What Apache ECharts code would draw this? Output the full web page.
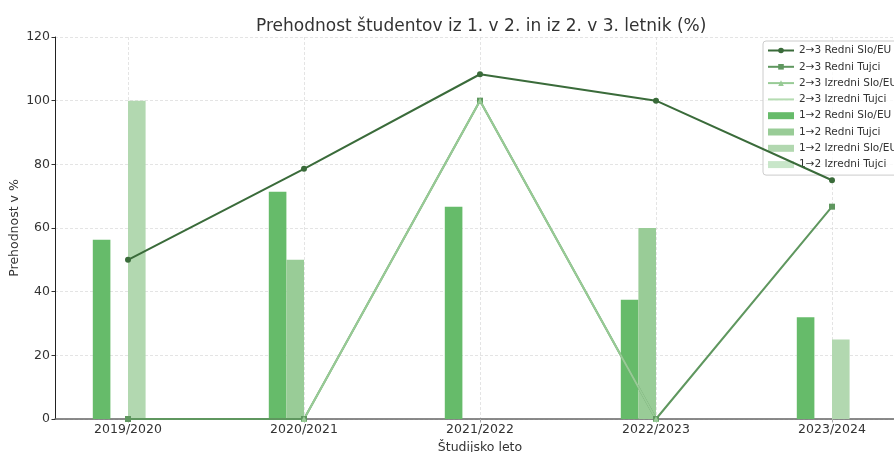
<!DOCTYPE html>
<html>
<head>
<meta charset="utf-8">
<script src="https://cdn.jsdelivr.net/npm/echarts@6/dist/echarts.min.js"></script>
<style>
  html, body { margin: 0; padding: 0; background: #fff; }
  #main { width: 894px; height: 452px; }
</style>
</head>
<body>
<div id="main"></div>
<script>
// podatki (odčitani z grafa)
var years = ["2019/2020", "2020/2021", "2021/2022", "2022/2023", "2023/2024"];
var yTicks = [0, 20, 40, 60, 80, 100, 120];

// 2->3 (črte)
var l23RedniSlo = [50, 78.6, 108.3, 100, 75];
var l23RedniTujci = [0, 0, 100, 0, 66.7];
var l23IzredniSlo = [null, 0, 100, 0, null];
var l23IzredniTujci = [null, null, null, null, null];

// 1->2 (stolpci)
var b12RedniSlo = [56.3, 71.4, 66.7, 37.5, 32];
var b12RedniTujci = [null, 50, null, 60, null];
var b12IzredniSlo = [100, null, null, null, 25];
var b12IzredniTujci = [null, null, null, null, null];

var font = "DejaVu Sans";
var myChart = echarts.init(document.getElementById("main"));

function line(name, data, color, symbol) {
  return {
    name: name, type: "line", xAxisIndex: 1, yAxisIndex: 1,
    data: data, z: 5, connectNulls: false,
    symbol: symbol || "none", symbolSize: 6, showSymbol: !!symbol,
    lineStyle: { color: color, width: 2 },
    itemStyle: { color: color },
    emphasis: { disabled: true }
  };
}
function bar(name, data, color) {
  return {
    name: name, type: "bar", xAxisIndex: 1, yAxisIndex: 1,
    data: data, barWidth: 17.6, barGap: "0%", clip: false, z: 2,
    itemStyle: { color: color },
    emphasis: { disabled: true }
  };
}

var option = {
  animation: false,
  textStyle: { fontFamily: font },
  title: {
    text: "Prehodnost študentov iz 1. v 2. in iz 2. v 3. letnik (%)",
    left: 251, top: 13,
    textStyle: { fontFamily: font, fontSize: 17, fontWeight: "normal", color: "#333" }
  },
  legend: {
    orient: "vertical", left: 763, top: 41,
    padding: [4, 4, 5, 4], itemWidth: 26, itemHeight: 7, itemGap: 5.3,
    backgroundColor: "rgba(255,255,255,0.8)", borderColor: "#ccc", borderWidth: 1, borderRadius: 3,
    textStyle: { fontFamily: font, fontSize: 10.5, color: "#333" },
    data: [
      { name: "2→3 Redni Slo/EU" }, { name: "2→3 Redni Tujci" },
      { name: "2→3 Izredni Slo/EU" }, { name: "2→3 Izredni Tujci", itemStyle: { opacity: 0 } },
      { name: "1→2 Redni Slo/EU", icon: "rect" }, { name: "1→2 Redni Tujci", icon: "rect" },
      { name: "1→2 Izredni Slo/EU", icon: "rect" }, { name: "1→2 Izredni Tujci", icon: "rect" }
    ]
  },
  grid: [
    { left: 55, right: -12, top: 37, bottom: 33, outerBoundsMode: "none", containLabel: false },
    { left: 128, right: 62, top: 37, bottom: 33, outerBoundsMode: "none", containLabel: false }
  ],
  xAxis: [
    {
      gridIndex: 0, type: "value", min: 0, max: 1,
      axisLine: { show: true, lineStyle: { color: "#666", width: 1.5 } },
      axisTick: { show: false }, axisLabel: { show: false }, splitLine: { show: false }
    },
    {
      gridIndex: 1, type: "category", data: years, boundaryGap: false,
      name: "Študijsko leto", nameLocation: "middle", nameGap: 22,
      nameTextStyle: { fontFamily: font, fontSize: 12.5, color: "#333" },
      axisLine: { show: false },
      axisTick: { show: true, length: 3.5, lineStyle: { color: "#aaa" } },
      axisLabel: { fontFamily: font, fontSize: 12.5, color: "#333", margin: 4 },
      splitLine: { show: true, lineStyle: { color: "#ddd", type: [3, 2], width: 0.8 } }
    }
  ],
  yAxis: [
    {
      gridIndex: 0, type: "value", min: 0, max: 120, interval: 20,
      name: "Prehodnost v %", nameLocation: "middle", nameGap: 34, nameMoveOverlap: false,
      nameTextStyle: { fontFamily: font, fontSize: 12.5, color: "#333" },
      axisLine: { show: true, lineStyle: { color: "#222", width: 1 } },
      axisTick: { show: true, length: 3.5, lineStyle: { color: "#333" } },
      axisLabel: {
        fontFamily: font, fontSize: 12.5, color: "#333", margin: 5,
        formatter: function (v) { return yTicks.indexOf(v) >= 0 ? String(v) : ""; }
      },
      splitLine: { show: true, lineStyle: { color: "#ddd", type: [3, 2], width: 0.8 } }
    },
    {
      gridIndex: 1, type: "value", min: 0, max: 120, interval: 20, show: false
    }
  ],
  series: [
    bar("1→2 Redni Slo/EU", b12RedniSlo, "#66bb6a"),
    bar("1→2 Redni Tujci", b12RedniTujci, "#99cc97"),
    bar("1→2 Izredni Slo/EU", b12IzredniSlo, "#b2d8b0"),
    bar("1→2 Izredni Tujci", b12IzredniTujci, "#c8e6c9"),
    line("2→3 Redni Slo/EU", l23RedniSlo, "#3a6b3a", "circle"),
    line("2→3 Redni Tujci", l23RedniTujci, "#5f975f", "rect"),
    line("2→3 Izredni Slo/EU", l23IzredniSlo, "#98cb96", "triangle"),
    line("2→3 Izredni Tujci", l23IzredniTujci, "#b5dcb2")
  ]
};

myChart.setOption(option, true);
</script>
</body>
</html>
